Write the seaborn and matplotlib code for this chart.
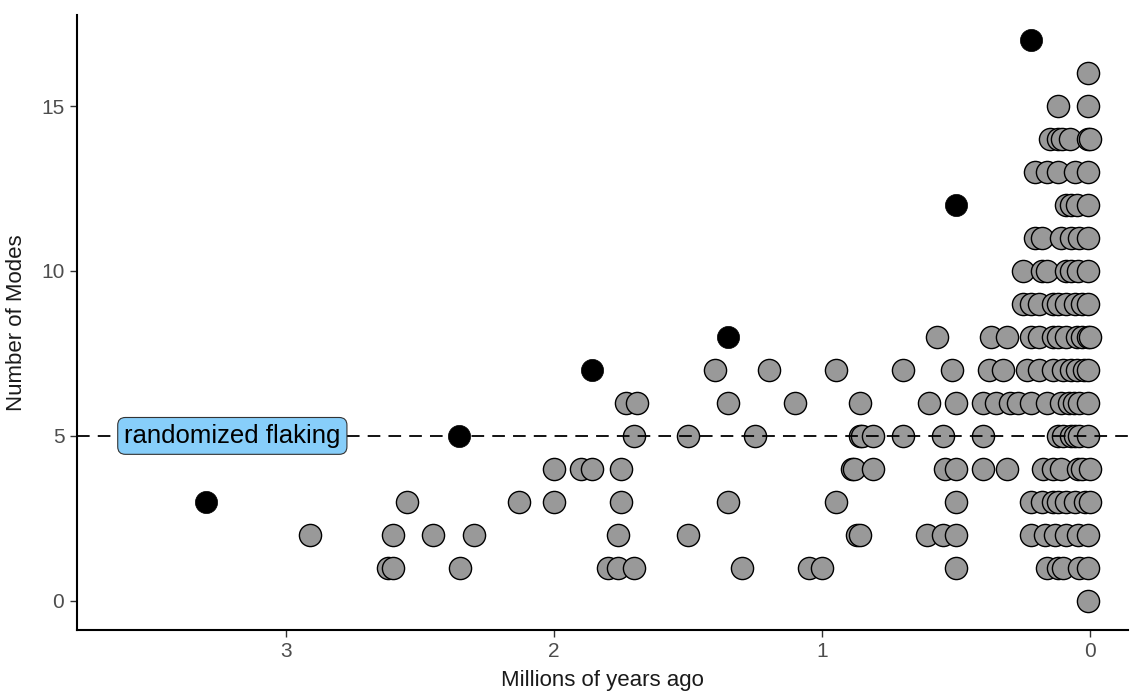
import matplotlib
matplotlib.use("Agg")
import matplotlib.pyplot as plt
import seaborn as sns
import pandas as pd

# ---- data (millions of years ago, number of modes) ----
gray_age = [
    0.01,                                                                   # 0
    2.62, 2.60, 2.35, 1.80, 1.76, 1.70, 1.30, 1.05, 1.00, 0.50, 0.16, 0.12, 0.10, 0.04, 0.01,  # 1
    2.91, 2.60, 2.45, 2.30, 1.76, 1.50, 0.87, 0.86, 0.61, 0.55, 0.50, 0.22, 0.17, 0.13, 0.09, 0.045, 0.01,  # 2
    2.55, 2.13, 2.00, 1.75, 1.35, 0.95, 0.50, 0.22, 0.18, 0.14, 0.12, 0.09, 0.055, 0.02, 0.0,  # 3
    2.00, 1.90, 1.86, 1.75, 0.89, 0.88, 0.81, 0.54, 0.50, 0.40, 0.31, 0.175, 0.14, 0.11, 0.045, 0.03, 0.0,  # 4
    1.70, 1.50, 1.25, 0.86, 0.85, 0.81, 0.70, 0.55, 0.40, 0.12, 0.10, 0.07, 0.055, 0.04, 0.01,  # 5
    1.73, 1.69, 1.35, 1.10, 0.86, 0.60, 0.50, 0.40, 0.35, 0.30, 0.27, 0.22, 0.16, 0.11, 0.08, 0.06, 0.04, 0.01,  # 6
    1.40, 1.20, 0.95, 0.70, 0.515, 0.377, 0.325, 0.235, 0.19, 0.14, 0.10, 0.07, 0.05, 0.025, 0.01,  # 7
    0.57, 0.37, 0.31, 0.22, 0.19, 0.14, 0.12, 0.09, 0.05, 0.03, 0.01, 0.0,  # 8
    0.25, 0.22, 0.19, 0.14, 0.12, 0.09, 0.055, 0.03, 0.01,  # 9
    0.25, 0.18, 0.16, 0.09, 0.07, 0.045, 0.01,  # 10
    0.205, 0.18, 0.11, 0.07, 0.04, 0.01,  # 11
    0.09, 0.07, 0.05, 0.01,  # 12
    0.205, 0.16, 0.12, 0.055, 0.01,  # 13
    0.15, 0.12, 0.105, 0.075, 0.01, 0.0,  # 14
    0.12, 0.01,  # 15
    0.01,  # 16
]
gray_modes = [
    0,
    1, 1, 1, 1, 1, 1, 1, 1, 1, 1, 1, 1, 1, 1, 1,
    2, 2, 2, 2, 2, 2, 2, 2, 2, 2, 2, 2, 2, 2, 2, 2, 2,
    3, 3, 3, 3, 3, 3, 3, 3, 3, 3, 3, 3, 3, 3, 3,
    4, 4, 4, 4, 4, 4, 4, 4, 4, 4, 4, 4, 4, 4, 4, 4, 4,
    5, 5, 5, 5, 5, 5, 5, 5, 5, 5, 5, 5, 5, 5, 5,
    6, 6, 6, 6, 6, 6, 6, 6, 6, 6, 6, 6, 6, 6, 6, 6, 6, 6,
    7, 7, 7, 7, 7, 7, 7, 7, 7, 7, 7, 7, 7, 7, 7,
    8, 8, 8, 8, 8, 8, 8, 8, 8, 8, 8, 8,
    9, 9, 9, 9, 9, 9, 9, 9, 9,
    10, 10, 10, 10, 10, 10, 10,
    11, 11, 11, 11, 11, 11,
    12, 12, 12, 12,
    13, 13, 13, 13, 13,
    14, 14, 14, 14, 14, 14,
    15, 15,
    16,
]
black_age = [3.30, 2.355, 1.86, 1.35, 0.50, 0.22]
black_modes = [3, 5, 7, 8, 12, 17]

reference_modes = 5
reference_label = "randomized flaking"
reference_label_age = 3.20
x_ticks = [3, 2, 1, 0]
y_ticks = [0, 5, 10, 15]

gray_df = pd.DataFrame({"age": gray_age, "modes": gray_modes})
black_df = pd.DataFrame({"age": black_age, "modes": black_modes})

sns.set_theme(style="ticks")
plt.rcParams["font.family"] = ["Liberation Sans", "DejaVu Sans"]

fig = plt.figure(figsize=(11.3, 6.96), dpi=100)
ax = fig.add_axes([0.068, 0.095, 0.93, 0.883])

sns.scatterplot(data=gray_df, x="age", y="modes", ax=ax, s=255,
                color="#999999", edgecolor="black", linewidth=1.0, zorder=2)
ax.axhline(reference_modes, color="black", linestyle=(0, (7, 4.5)), linewidth=1.3, zorder=3)
sns.scatterplot(data=black_df, x="age", y="modes", ax=ax, s=255,
                color="black", edgecolor="black", linewidth=0.5, zorder=4)

ax.text(reference_label_age, reference_modes, reference_label, fontsize=18.5,
        ha="center", va="center", color="black", zorder=5,
        bbox=dict(boxstyle="round,pad=0.25,rounding_size=0.3",
                  facecolor="#87CEFA", edgecolor="#333333", linewidth=0.8))

ax.set_xlim(3.78, -0.14)
ax.set_ylim(-0.88, 17.75)
ax.set_xticks(x_ticks)
ax.set_yticks(y_ticks)
ax.set_xlabel("Millions of years ago", fontsize=16, color="#1a1a1a", labelpad=6)
ax.set_ylabel("Number of Modes", fontsize=16, color="#1a1a1a", labelpad=10)
ax.tick_params(axis="both", labelsize=15, labelcolor="#4d4d4d", color="#333333",
               length=5, width=1.0, pad=4)
for side in ["top", "right"]:
    ax.spines[side].set_visible(False)
for side in ["left", "bottom"]:
    ax.spines[side].set_linewidth(1.5)
    ax.spines[side].set_color("black")
ax.grid(False)

fig.savefig("out.png", dpi=100)
